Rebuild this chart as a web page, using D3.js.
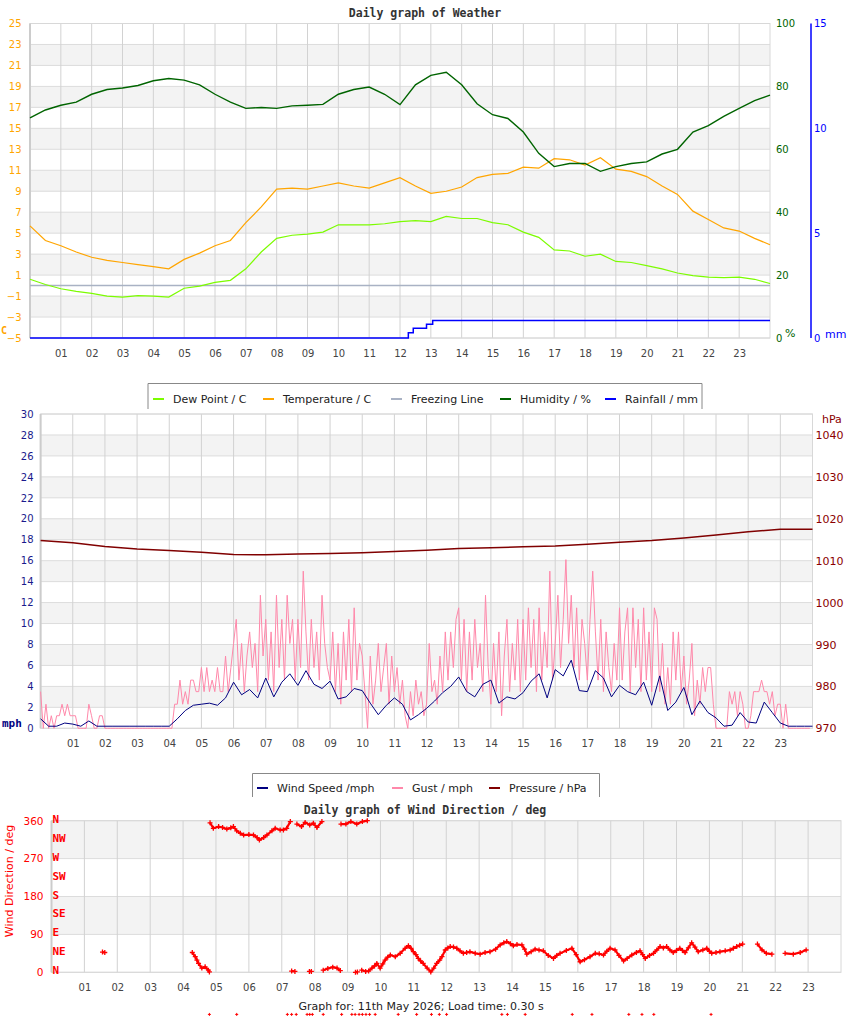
<!DOCTYPE html>
<meta charset="utf-8">
<script src="https://d3js.org/d3.v7.min.js"></script>
<style>
  body { margin: 0; background: #fff; }
</style>
<div id="weather"></div>
<script>

// hour tick labels, shared by the three panels
var hourTicks = [1, 2, 3, 4, 5, 6, 7, 8, 9, 10, 11, 12, 13, 14, 15, 16, 17, 18, 19, 20, 21, 22, 23];
var hourLabels = ["01","02","03","04","05","06","07","08","09","10","11","12",
                  "13","14","15","16","17","18","19","20","21","22","23"];

// ---- panel 1 : half hourly readings ----
var halfHours = d3.range(0, 24.01, 0.5);
var temperature = [5.7, 4.3, 3.8, 3.2, 2.7, 2.4, 2.2, 2.0, 1.8, 1.6,
                   2.5, 3.1, 3.8, 4.3, 6.0, 7.5, 9.2, 9.3, 9.2, 9.5,
                   9.8, 9.5, 9.3, 9.8, 10.3, 9.5, 8.8, 9.0, 9.4, 10.3,
                   10.6, 10.7, 11.3, 11.2, 12.1, 12.0, 11.5, 12.2, 11.1, 10.9,
                   10.4, 9.5, 8.7, 7.1, 6.3, 5.5, 5.2, 4.5, 3.9];
var dewPoint = [0.6, 0.1, -0.3, -0.55, -0.75, -1.0, -1.1, -0.95, -1.0, -1.1,
                -0.25, -0.05, 0.3, 0.5, 1.6, 3.2, 4.5, 4.8, 4.9, 5.1,
                5.8, 5.8, 5.8, 5.9, 6.1, 6.2, 6.1, 6.6, 6.4, 6.4,
                6.0, 5.8, 5.1, 4.6, 3.4, 3.3, 2.8, 3.0, 2.3, 2.2,
                1.9, 1.6, 1.2, 0.95, 0.8, 0.75, 0.8, 0.6, 0.2];
var humidity = [70, 72.5, 74, 75, 77.5, 79, 79.5, 80.3, 81.8, 82.5,
                82, 80.5, 77.5, 75, 73, 73.3, 73, 73.8, 74, 74.3,
                77.5, 79, 79.8, 77.5, 74.2, 80.5, 83.5, 84.5, 80.5, 74.5,
                71, 69.8, 65.5, 58.7, 54.5, 55.5, 55.5, 53, 54.5, 55.5,
                56, 58.5, 60, 65.5, 67.5, 70.5, 73, 75.5, 77.2];
var rainTime = [0, 12.27, 12.43, 12.86, 13.06, 24];
var rainfall = [0, 0.25, 0.46, 0.65, 0.84, 0.84];

// ---- panel 2 : wind and pressure ----
var pressureHours = d3.range(0, 25);
var pressure = [1014.8, 1014.3, 1013.4, 1012.8, 1012.4, 1012.0, 1011.5, 1011.4, 1011.6, 1011.7,
                1011.9, 1012.2, 1012.5, 1012.9, 1013.1, 1013.3, 1013.5, 1013.9, 1014.4, 1014.8,
                1015.4, 1016.1, 1016.9, 1017.5, 1017.5];
var quarterHours = d3.range(0, 24.01, 0.25);
var windSpeed = [0.9, 0.2, 0.2, 0.5, 0.4, 0.2, 0.7, 0.2, 0.2, 0.2, 0.2, 0.2, 0.2, 0.2, 0.2, 0.2,
                 0.2, 0.9, 1.7, 2.2, 2.3, 2.4, 2.2, 2.9, 4.4, 3.2, 3.7, 2.9, 4.8, 3.0, 4.4, 5.2,
                 4.1, 5.5, 4.2, 3.8, 4.5, 2.8, 3.0, 3.8, 3.6, 2.4, 1.3, 2.2, 2.9, 2.3, 0.8, 1.3,
                 1.9, 2.6, 3.4, 4.0, 4.9, 3.5, 3.0, 4.2, 4.6, 2.4, 3.0, 2.8, 3.4, 4.5, 5.2, 2.9,
                 5.6, 5.0, 6.5, 3.6, 3.5, 5.5, 4.8, 3.0, 4.1, 3.5, 3.2, 4.4, 2.2, 5.0, 1.7, 2.5,
                 3.9, 1.3, 2.6, 1.5, 1.0, 0.2, 0.3, 1.5, 0.6, 0.5, 2.5, 1.5, 0.5, 0.2, 0.2, 0.2, 0.2];
// five minute gust readings, one row per hour
var gustTimes = d3.range(0, 288).map(function(i) { return i / 12; });
var gust = [
  3.5, 0, 2.3, 0, 1.2, 0, 1.2, 1.2, 2.3, 1.2, 2.3, 1.2,
  1.2, 1.2, 0, 0, 0, 0, 2.3, 1.2, 0, 0, 1.2, 1.2,
  0, 0, 0, 0, 0, 0, 0, 0, 0, 0, 0, 0,
  0, 0, 0, 0, 0, 0, 0, 0, 0, 0, 0, 0,
  0, 0, 2.3, 2.3, 4.6, 2.3, 3.5, 2.3, 4.6, 4.6, 3.5, 3.5,
  5.8, 3.5, 5.8, 3.5, 4.6, 3.5, 5.8, 3.5, 3.5, 6.9, 3.5, 5.8,
  8.1, 10.4, 4.6, 8.1, 3.5, 6.9, 9.2, 5.8, 8.1, 3.5, 12.7, 6.9,
  10.4, 4.6, 9.2, 3.5, 12.7, 5.8, 10.4, 4.6, 12.7, 8.1, 10.4, 4.6,
  10.4, 5.8, 15.0, 9.2, 4.6, 10.4, 5.8, 9.2, 4.6, 12.7, 8.1, 5.8,
  4.6, 9.2, 3.5, 8.1, 2.3, 9.2, 4.6, 10.4, 3.5, 11.5, 4.6, 8.1,
  6.9, 3.5, 0, 6.9, 2.3, 4.6, 8.1, 3.5, 5.8, 8.1, 2.3, 6.9,
  3.5, 5.8, 2.3, 4.6, 1.2, 0, 3.5, 1.2, 4.6, 2.3, 3.5, 1.2,
  2.3, 8.1, 3.5, 4.6, 2.3, 6.9, 3.5, 9.2, 4.6, 9.2, 5.8, 10.4,
  11.5, 4.6, 10.4, 3.5, 9.2, 4.6, 10.4, 5.8, 8.1, 3.5, 12.7, 5.8,
  2.3, 8.1, 3.5, 9.2, 1.2, 6.9, 10.4, 3.5, 8.1, 4.6, 10.4, 3.5,
  10.4, 4.6, 11.5, 5.8, 10.4, 3.5, 11.5, 4.6, 9.2, 5.8, 15.0, 4.6,
  8.1, 12.7, 5.8, 10.4, 16.1, 8.1, 12.7, 5.8, 11.5, 4.6, 10.4, 8.1,
  4.6, 10.4, 15.0, 9.2, 4.6, 10.4, 3.5, 9.2, 5.8, 3.5, 8.1, 4.6,
  11.5, 4.6, 9.2, 11.5, 3.5, 11.5, 5.8, 10.4, 3.5, 11.5, 4.6, 9.2,
  3.5, 11.5, 10.4, 3.5, 8.1, 2.3, 5.8, 2.3, 9.2, 4.6, 9.2, 3.5,
  6.9, 2.3, 4.6, 8.1, 1.2, 4.6, 2.3, 5.8, 3.5, 5.8, 5.8, 2.3,
  0, 0, 0, 0, 0, 3.5, 2.3, 3.5, 1.2, 3.5, 2.3, 0,
  0, 1.2, 3.5, 3.5, 3.5, 4.6, 3.5, 3.5, 2.3, 3.5, 1.2, 2.3,
  2.3, 0, 2.3, 0, 0, 0, 0, 0, 0, 0, 0, 0
];

// ---- panel 3 : wind direction, null starts a new run ----
var dirTime = [1.55, 1.62, null,
  4.28, 4.37, 4.42, 4.47, 4.57, 4.67, 4.77, 4.8, null,
  4.82, 4.92, 5.08, 5.2, 5.33, 5.45, 5.53, 5.63, 5.74, 5.84, 6.0, 6.14, 6.25, 6.32, 6.45, 6.55,
  6.7, 6.8, 6.95, 7.05, 7.15, 7.26, null,
  7.3, 7.4, null,
  7.46, 7.6, 7.71, 7.85, 7.96, 8.07, 8.22, null,
  7.84, 7.9, null,
  8.26, 8.4, 8.55, 8.68, 8.78, null,
  8.8, 8.95, 9.1, 9.28, 9.45, 9.6, null,
  9.24, 9.3, null,
  9.43, 9.55, 9.64, 9.74, 9.82, 9.89, 9.99, 10.07, 10.14, 10.22, 10.3, 10.45, 10.6, 10.75, 10.85,
  10.93, 11.0, 11.08, 11.15, 11.22, 11.3, 11.42, 11.53, 11.62, 11.71, 11.8, 11.87, 11.97, 12.05,
  12.12, 12.22, 12.32, 12.42, 12.52, 12.62, 12.72, 12.88, 13.03, 13.18, 13.33, 13.5, 13.64, 13.75,
  13.84, 13.95, 14.04, 14.15, 14.3, 14.38, 14.45, 14.58, 14.7, 14.82, 14.95, 15.1, 15.26, 15.36,
  15.46, 15.65, 15.82, 15.95, 16.07, 16.2, 16.37, 16.53, 16.65, 16.78, 16.88, 16.98, 17.13, 17.25,
  17.39, 17.5, 17.64, 17.78, 17.89, 17.97, 18.05, 18.18, 18.3, 18.4, 18.5, 18.6, 18.7, 18.8,
  18.9, 19.0, 19.1, 19.18, 19.26, 19.36, 19.46, 19.56, 19.66, 19.8, 19.92, 20.0, 20.07, 20.2,
  20.32, 20.48, 20.63, 20.73, 20.83, 20.92, 21.01, null,
  21.46, 21.6, 21.73, 21.9, null,
  22.3, 22.55, 22.76, 22.94];
var dirDeg = [48, 47, null,
  47, 37, 29, 21, 10, 13, 5, 1, null,
  355, 342, 346, 344, 340, 343, 346, 336, 330, 326, 327, 326, 320, 314, 320, 326,
  336, 342, 338, 338, 342, 358, null,
  3, 2, null,
  352, 346, 356, 350, 354, 344, 358, null,
  2, 2, null,
  5, 9, 12, 10, 4, null,
  352, 352, 358, 352, 358, 360, null,
  0, 1, null,
  5, 2, 3, 10, 15, 21, 10, 20, 29, 36, 41, 37, 45, 57, 63,
  57, 49, 42, 33, 27, 21, 10, 1, 10, 21, 29, 37, 53, 58,
  61, 60, 57, 51, 45, 47, 49, 45, 43, 47, 49, 55, 65, 70,
  73, 68, 63, 66, 65, 55, 43, 49, 55, 53, 51, 40, 33, 40,
  45, 52, 57, 42, 25, 30, 37, 45, 44, 41, 50, 57, 53, 40,
  27, 33, 41, 47, 51, 42, 33, 40, 45, 53, 61, 58, 61, 53,
  47, 52, 57, 52, 47, 58, 70, 60, 49, 53, 57, 50, 45, 47,
  49, 51, 53, 57, 61, 64, 67, null,
  67, 53, 45, 43, null,
  45, 43, 47, 53];
// readings with no direction, plotted at -100 below the panel
var calmTime = [4.8, 5.63, 7.17, 7.3, 7.44, 7.77, 7.85, 7.93, 8.26, 8.82, 9.13, 9.23, 9.35, 9.45,
                9.56, 9.67, 9.84, 10.54, 11.1, 11.55, 11.79, 12.01, 13.69, 13.86, 14.4, 15.83,
                16.43, 17.55, 17.95, 18.31, 20.05];

// axis tick values
var tempTicks = [-5, -3, -1, 1, 3, 5, 7, 9, 11, 13, 15, 17, 19, 21, 23, 25];
var humTicks = [0, 20, 40, 60, 80, 100];
var rainTicks = [0, 5, 10, 15];
var windTicks = [0, 2, 4, 6, 8, 10, 12, 14, 16, 18, 20, 22, 24, 26, 28, 30];
var pressTicks = [970, 980, 990, 1000, 1010, 1020, 1030, 1040];
var dirTicks = [0, 90, 180, 270, 360];
var compassNames = ["N", "NE", "E", "SE", "S", "SW", "W", "NW", "N"];
var compassDeg = [0, 45, 90, 135, 180, 225, 270, 315, 360];

var svg = d3.select("#weather").append("svg")
    .attr("width", 850).attr("height", 1017)
    .style("display", "block")
    .attr("font-family", "DejaVu Sans");

// background bands, grid, border and hour labels of one panel
function frame(x, y, bands, grid) {
  var x0 = x.range()[0], x1 = x.range()[1], yb = y.range()[0], yt = y.range()[1];
  var g = svg.append("g");
  g.selectAll(null).data(bands).enter().append("rect")
    .attr("x", x0).attr("width", x1 - x0)
    .attr("y", function(d) { return y(d[1]); })
    .attr("height", function(d) { return y(d[0]) - y(d[1]); })
    .attr("fill", "#f3f3f3");
  g.selectAll(null).data(grid).enter().append("line")
    .attr("x1", x0).attr("x2", x1)
    .attr("y1", function(d) { return y(d); }).attr("y2", function(d) { return y(d); })
    .attr("stroke", "#dcdcdc");
  g.selectAll(null).data(hourTicks).enter().append("line")
    .attr("x1", function(d) { return x(d); }).attr("x2", function(d) { return x(d); })
    .attr("y1", yt).attr("y2", yb)
    .attr("stroke", "#d2d2d2");
  g.append("rect").attr("x", x0).attr("y", yt).attr("width", x1 - x0).attr("height", yb - yt)
    .attr("fill", "none").attr("stroke", "#d8d8d8");
  g.append("line").attr("x1", x0).attr("x2", x0).attr("y1", yt).attr("y2", yb)
    .attr("stroke", "#cccccc").attr("stroke-width", 2);

  svg.append("g").attr("transform", "translate(0," + yb + ")")
    .call(d3.axisBottom(x).tickValues(hourTicks)
      .tickFormat(function(d, i) { return hourLabels[i]; })
      .tickSize(0).tickPadding(11.5))
    .call(function(a) { a.select(".domain").remove(); })
    .attr("font-family", "DejaVu Sans").attr("font-size", 10)
    .selectAll("text").attr("fill", "#444");
}

function yAxis(axis, xPos, color, size) {
  svg.append("g").attr("transform", "translate(" + xPos + ",0)")
    .call(axis)
    .call(function(a) { a.select(".domain").remove(); })
    .attr("font-family", "DejaVu Sans").attr("font-size", size)
    .selectAll("text").attr("fill", color);
}

function label(x, y, txt, color, opts) {
  opts = opts || {};
  return svg.append("text").attr("x", x).attr("y", y).text(txt)
    .attr("fill", color)
    .attr("font-size", opts.size || 11)
    .attr("font-family", opts.mono ? "DejaVu Sans Mono" : "DejaVu Sans")
    .attr("font-weight", opts.bold ? "bold" : "normal")
    .attr("text-anchor", opts.anchor || "start");
}

function legend(left, right, top, bottom, items) {
  var g = svg.append("g");
  g.append("rect").attr("x", left).attr("y", top).attr("width", right - left).attr("height", bottom - top)
    .attr("fill", "#fff");
  g.append("path").attr("d", "M" + left + "," + bottom + "V" + top + "H" + right + "V" + bottom)
    .attr("fill", "none").attr("stroke", "#888");
  items.forEach(function(it) {
    g.append("line").attr("x1", it.sx).attr("x2", it.sx + 11)
      .attr("y1", it.y - 3.5).attr("y2", it.y - 3.5)
      .attr("stroke", it.color).attr("stroke-width", 2);
    g.append("text").attr("x", it.tx).attr("y", it.y).text(it.text)
      .attr("font-size", 11).attr("fill", "#222");
  });
}

// ================= panel 1 =================
var x1 = d3.scaleLinear().domain([0, 24]).range([30, 770]);
var yT = d3.scaleLinear().domain([-5, 25]).range([338, 23.5]);
var yH = d3.scaleLinear().domain([0, 100]).range([338, 23.5]);
var yR = d3.scaleLinear().domain([0, 15]).range([338, 23.5]);

label(425, 17, "Daily graph of Weather", "#333", {mono: true, bold: true, size: 11.5, anchor: "middle"});
frame(x1, yT, d3.range(-3, 25, 4).map(function(v) { return [v, v + 2]; }), tempTicks);

yAxis(d3.axisLeft(yT).tickValues(tempTicks).tickSize(0).tickPadding(8.5), 30, "#ffa500", 10);
yAxis(d3.axisRight(yH).tickValues(humTicks).tickSize(0).tickPadding(6), 770, "#006400", 10);
yAxis(d3.axisRight(yR).tickValues(rainTicks).tickSize(0).tickPadding(3), 811, "#0000ff", 10);
svg.append("line").attr("x1", 811).attr("x2", 811).attr("y1", 23.5).attr("y2", 338)
  .attr("stroke", "#0000ff").attr("stroke-width", 1.5);
label(1, 334, "C", "#ffa500", {mono: true, bold: true, size: 10});
label(785, 337, "%", "#006400");
label(825, 338, "mm", "#0000ff");

svg.append("line").attr("x1", x1(0)).attr("x2", x1(24)).attr("y1", yT(0)).attr("y2", yT(0))
  .attr("stroke", "#a9b2c4").attr("stroke-width", 1.5);
svg.append("path").datum(d3.zip(rainTime, rainfall))
  .attr("d", d3.line().curve(d3.curveStepAfter)
    .x(function(d) { return x1(d[0]); }).y(function(d) { return yR(d[1]); }))
  .attr("fill", "none").attr("stroke", "#0000ff").attr("stroke-width", 1.5);
svg.append("path").datum(d3.zip(halfHours, dewPoint))
  .attr("d", d3.line().x(function(d) { return x1(d[0]); }).y(function(d) { return yT(d[1]); }))
  .attr("fill", "none").attr("stroke", "#7cfc00").attr("stroke-width", 1.2);
svg.append("path").datum(d3.zip(halfHours, temperature))
  .attr("d", d3.line().x(function(d) { return x1(d[0]); }).y(function(d) { return yT(d[1]); }))
  .attr("fill", "none").attr("stroke", "#ffa500").attr("stroke-width", 1.2);
svg.append("path").datum(d3.zip(halfHours, humidity))
  .attr("d", d3.line().x(function(d) { return x1(d[0]); }).y(function(d) { return yH(d[1]); }))
  .attr("fill", "none").attr("stroke", "#006400").attr("stroke-width", 1.4);

legend(148, 702, 383.5, 409, [
  {sx: 153, tx: 173, y: 402.5, color: "#7cfc00", text: "Dew Point / C"},
  {sx: 263, tx: 283, y: 402.5, color: "#ffa500", text: "Temperature / C"},
  {sx: 391, tx: 411, y: 402.5, color: "#a9b2c4", text: "Freezing Line"},
  {sx: 500, tx: 520, y: 402.5, color: "#006400", text: "Humidity / %"},
  {sx: 605, tx: 625, y: 402.5, color: "#0000ff", text: "Rainfall / mm"}
]);

// ================= panel 2 =================
var x2 = d3.scaleLinear().domain([0, 24]).range([40.6, 812.5]);
var yW = d3.scaleLinear().domain([0, 30]).range([728.3, 414]);
var yP = d3.scaleLinear().domain([970, 1045]).range([728.3, 414]);

frame(x2, yW, d3.range(2, 30, 4).map(function(v) { return [v, v + 2]; }), windTicks);
yAxis(d3.axisLeft(yW).tickValues(windTicks).tickSize(0).tickPadding(7), 40.6, "#1a1a8c", 10);
yAxis(d3.axisRight(yP).tickValues(pressTicks).tickFormat(d3.format("d")).tickSize(0).tickPadding(3),
      812.5, "#8b0000", 11);
label(2, 727, "mph", "#000080", {mono: true, bold: true});
label(822, 423, "hPa", "#8b0000");

svg.append("path").datum(d3.zip(pressureHours, pressure))
  .attr("d", d3.line().x(function(d) { return x2(d[0]); }).y(function(d) { return yP(d[1]); }))
  .attr("fill", "none").attr("stroke", "#800000").attr("stroke-width", 1.5);
svg.append("path").datum(d3.zip(gustTimes, gust))
  .attr("d", d3.line().x(function(d) { return x2(d[0]); }).y(function(d) { return yW(d[1]); }))
  .attr("fill", "none").attr("stroke", "#ff88aa").attr("stroke-width", 1);
svg.append("path").datum(d3.zip(quarterHours, windSpeed))
  .attr("d", d3.line().x(function(d) { return x2(d[0]); }).y(function(d) { return yW(d[1]); }))
  .attr("fill", "none").attr("stroke", "#000080").attr("stroke-width", 1);

legend(252.5, 599.5, 773.5, 797, [
  {sx: 257, tx: 277, y: 791.5, color: "#000080", text: "Wind Speed /mph"},
  {sx: 392, tx: 412, y: 791.5, color: "#ff88aa", text: "Gust / mph"},
  {sx: 489, tx: 509, y: 791.5, color: "#800000", text: "Pressure / hPa"}
]);

// ================= panel 3 =================
var x3 = d3.scaleLinear().domain([0, 24]).range([51.5, 841]);
var yD = d3.scaleLinear().domain([0, 360]).range([972.3, 820.7]);

label(425, 814, "Daily graph of Wind Direction / deg", "#333", {mono: true, bold: true, size: 11.5, anchor: "middle"});
frame(x3, yD, [[90, 180], [270, 360]], dirTicks);
yAxis(d3.axisLeft(yD).tickValues(dirTicks).tickSize(0).tickPadding(8), 51.5, "#ff0000", 10.5);
svg.append("g").selectAll("text").data(compassNames).enter().append("text")
  .attr("x", 52.5)
  .attr("y", function(d, i) { return yD(compassDeg[i]) + 2; })
  .text(function(d) { return d; })
  .attr("font-family", "DejaVu Sans Mono").attr("font-weight", "bold")
  .attr("font-size", 11).attr("fill", "#ff0000");
svg.append("text").attr("transform", "translate(12.5,881) rotate(-90)")
  .attr("text-anchor", "middle").attr("font-size", 11).attr("fill", "#ff0000")
  .text("Wind Direction / deg");

var dirPts = d3.zip(dirTime, dirDeg);
svg.append("path").datum(dirPts)
  .attr("d", d3.line().defined(function(d) { return d[0] != null; })
    .x(function(d) { return x3(d[0]); }).y(function(d) { return yD(d[1]); }))
  .attr("fill", "none").attr("stroke", "#ff0000").attr("stroke-width", 2.2);
svg.append("g").selectAll("path")
  .data(dirPts.filter(function(d) { return d[0] != null; }))
  .enter().append("path")
  .attr("transform", function(d) { return "translate(" + x3(d[0]) + "," + yD(d[1]) + ")"; })
  .attr("d", "M-2.5,0H2.5M0,-2.5V2.5")
  .attr("stroke", "#ff0000").attr("stroke-width", 1.3);
svg.append("g").selectAll("path").data(calmTime).enter().append("path")
  .attr("transform", function(d) { return "translate(" + x3(d) + "," + yD(-100) + ")"; })
  .attr("d", "M-1.5,0H1.5M0,-1.5V1.5")
  .attr("stroke", "#ff0000").attr("stroke-width", 1);

label(421, 1010, "Graph for: 11th May 2026; Load time: 0.30 s", "#222", {size: 11, anchor: "middle"});

</script>
